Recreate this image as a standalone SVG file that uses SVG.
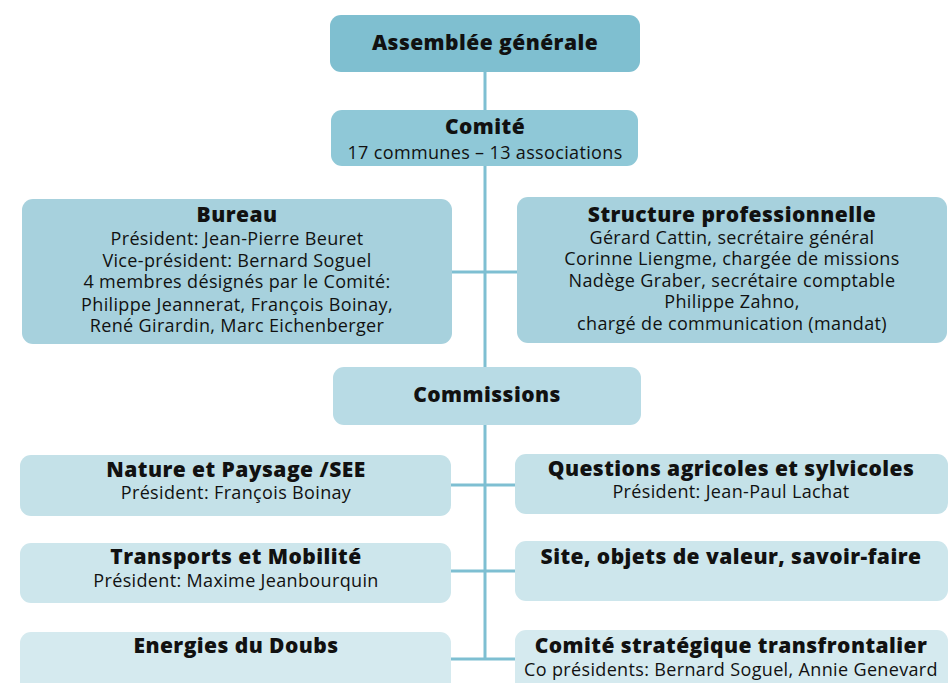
<svg xmlns="http://www.w3.org/2000/svg" width="948" height="683" viewBox="0 0 948 683">
<style>
.t{font-family:"Open Sans","Noto Sans","Liberation Sans",sans-serif;fill:#111111;text-anchor:middle}
.b{font-weight:800;font-size:21px;letter-spacing:0.45px}
.r{font-weight:normal;font-size:18px;letter-spacing:0.35px}
.c{stroke:#7ebfd2;stroke-width:3;fill:none}
</style>
<rect width="948" height="683" fill="#ffffff"/>
<g id="connectors">
<line class="c" x1="485" y1="72" x2="485" y2="659"/>
<line class="c" x1="452" y1="272" x2="517" y2="272"/>
<line class="c" x1="451" y1="485" x2="515" y2="485"/>
<line class="c" x1="451" y1="571" x2="515" y2="571"/>
<line class="c" x1="451" y1="659" x2="515" y2="659"/>
</g>
<g id="assemblee">
<rect x="330" y="15" width="310" height="57" rx="11" fill="#7fbfd0"/>
<text class="t b" x="485" y="50">Assemblée générale</text>
</g>
<g id="comite">
<rect x="331" y="110" width="307" height="56" rx="11" fill="#8fc8d7"/>
<text class="t"><tspan class="b" x="485" y="134">Comité</tspan><tspan class="r" x="485" y="159">17 communes – 13 associations</tspan></text>
</g>
<g id="bureau">
<rect x="22" y="199" width="430" height="145" rx="11" fill="#a7d1dd"/>
<text class="t"><tspan class="b" x="237" y="222">Bureau</tspan><tspan class="r" x="237" y="245">Président: Jean-Pierre Beuret</tspan><tspan class="r" x="237" y="267">Vice-président: Bernard Soguel</tspan><tspan class="r" x="237" y="288">4 membres désignés par le Comité:</tspan><tspan class="r" x="237" y="311">Philippe Jeannerat, François Boinay,</tspan><tspan class="r" x="237" y="332">René Girardin, Marc Eichenberger</tspan></text>
</g>
<g id="structure">
<rect x="517" y="197" width="430" height="146" rx="11" fill="#a7d1dd"/>
<text class="t"><tspan class="b" x="732" y="222">Structure professionnelle</tspan><tspan class="r" x="732" y="244">Gérard Cattin, secrétaire général</tspan><tspan class="r" x="732" y="265">Corinne Liengme, chargée de missions</tspan><tspan class="r" x="732" y="287">Nadège Graber, secrétaire comptable</tspan><tspan class="r" x="732" y="308">Philippe Zahno,</tspan><tspan class="r" x="732" y="330">chargé de communication (mandat)</tspan></text>
</g>
<g id="commissions">
<rect x="333" y="367" width="308" height="58" rx="11" fill="#b8dbe5"/>
<text class="t b" x="487" y="402">Commissions</text>
</g>
<g id="nature">
<rect x="20" y="455" width="431" height="61" rx="11" fill="#c4e1e8"/>
<text class="t"><tspan class="b" x="236" y="477">Nature et Paysage /SEE</tspan><tspan class="r" x="236" y="499">Président: François Boinay</tspan></text>
</g>
<g id="questions">
<rect x="515" y="454" width="433" height="60" rx="11" fill="#c4e1e8"/>
<text class="t"><tspan class="b" x="731" y="476">Questions agricoles et sylvicoles</tspan><tspan class="r" x="731" y="498">Président: Jean-Paul Lachat</tspan></text>
</g>
<g id="transports">
<rect x="20" y="543" width="431" height="60" rx="11" fill="#cde6ec"/>
<text class="t"><tspan class="b" x="236" y="564">Transports et Mobilité</tspan><tspan class="r" x="236" y="587">Président: Maxime Jeanbourquin</tspan></text>
</g>
<g id="site">
<rect x="515" y="541" width="433" height="60" rx="11" fill="#cde6ec"/>
<text class="t b" x="731" y="564">Site, objets de valeur, savoir-faire</text>
</g>
<g id="energies">
<rect x="20" y="632" width="431" height="62" rx="11" fill="#d5eaef"/>
<text class="t b" x="236" y="653">Energies du Doubs</text>
</g>
<g id="strategique">
<rect x="515" y="630" width="433" height="64" rx="11" fill="#d5eaef"/>
<text class="t"><tspan class="b" x="731" y="653">Comité stratégique transfrontalier</tspan><tspan class="r" x="731" y="676">Co présidents: Bernard Soguel, Annie Genevard</tspan></text>
</g>
</svg>
